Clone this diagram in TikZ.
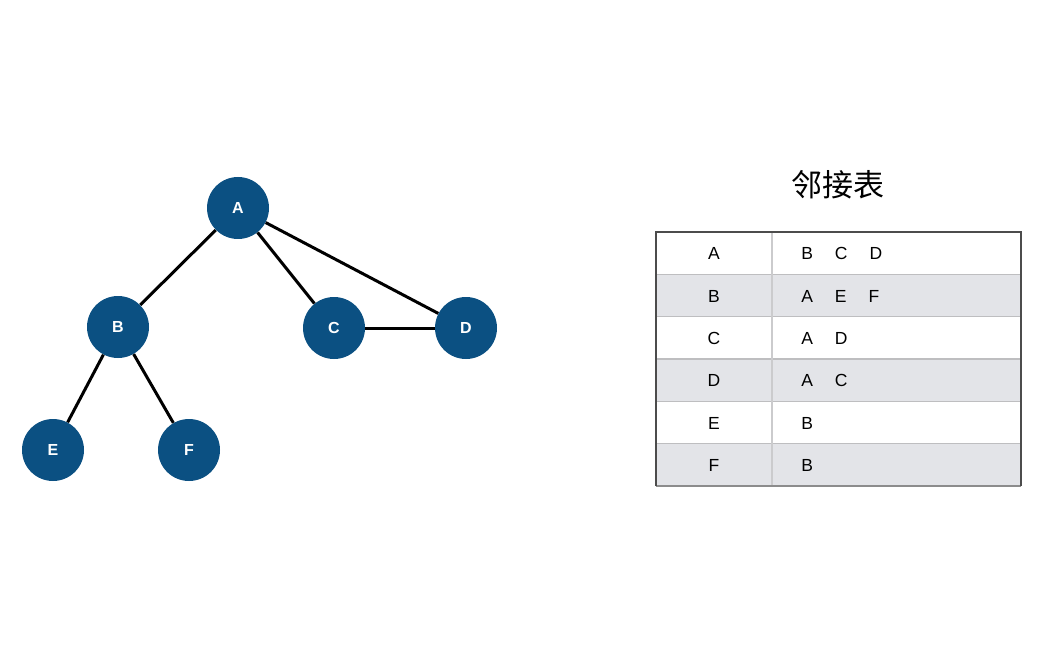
\documentclass[tikz,border=0pt]{standalone}
\usepackage{fontspec}
\setmainfont{Liberation Sans}
\newfontfamily\cjk{Noto Sans CJK SC}
\usetikzlibrary{positioning}

\definecolor{nodeblue}{RGB}{11,80,130}
\definecolor{rowgray}{RGB}{227,228,232}
\definecolor{linegray}{RGB}{190,190,192}

\begin{document}
\begin{tikzpicture}[x=1pt,
            y=-1pt,
            semithick,
            vertex/.style={circle,fill=nodeblue,minimum size=62pt,inner sep=0pt,
                           text=white,font=\fontsize{16}{18}\selectfont\bfseries},
            cell/.style={font=\fontsize{17.5}{20}\selectfont,inner sep=0pt,anchor=base}]

        \useasboundingbox (0,0) rectangle (1055,655);

        % graph
        \node[vertex] (A) at (238,208) {A};
        \node[vertex] (B) at (118,327) {B};
        \node[vertex] (C) at (334,328) {C};
        \node[vertex] (D) at (466,328) {D};
        \node[vertex] (E) at (53,450)  {E};
        \node[vertex] (F) at (189,450) {F};

        \path[line width=3pt] (A) edge (B)
                                  edge (C)
                                  edge (D)
                              (B) edge (E)
                                  edge (F)
                              (C) edge (D);

        % table
        \node[font=\cjk\fontsize{31}{34}\selectfont] (title) at (838,185) {邻接表};

        \foreach \i in {2,4,6}
            \fill[rowgray] (656,{232+42.33*(\i-1)}) rectangle (1021,{232+42.33*\i});
        \foreach \i in {1,...,5}
            \draw[linegray,line width=1.5pt] (656,{232+42.33*\i}) -- (1021,{232+42.33*\i});
        \draw[linegray!80,line width=1.5pt] (772,232) -- (772,486);
        \draw[black!45,line width=1.2pt] (656,486) -- (1021,486);
        \draw[black!70,line width=1.2pt] (656,486) -- (656,232) -- (1021,232) -- (1021,486);

        \foreach \k/\nb [count=\i] in {A/{B\hspace{22pt}C\hspace{22pt}D},
                                       B/{A\hspace{22pt}E\hspace{22pt}F},
                                       C/{A\hspace{22pt}D},
                                       D/{A\hspace{22pt}C},
                                       E/B,
                                       F/B} {
            \node[cell] (k\i) at (714,{232+42.33*\i-14.5}) {\k};
            \node[cell,anchor=base west] (n\i) at (801,{232+42.33*\i-14.5}) {\nb};
        }

    \end{tikzpicture}
\end{document}
